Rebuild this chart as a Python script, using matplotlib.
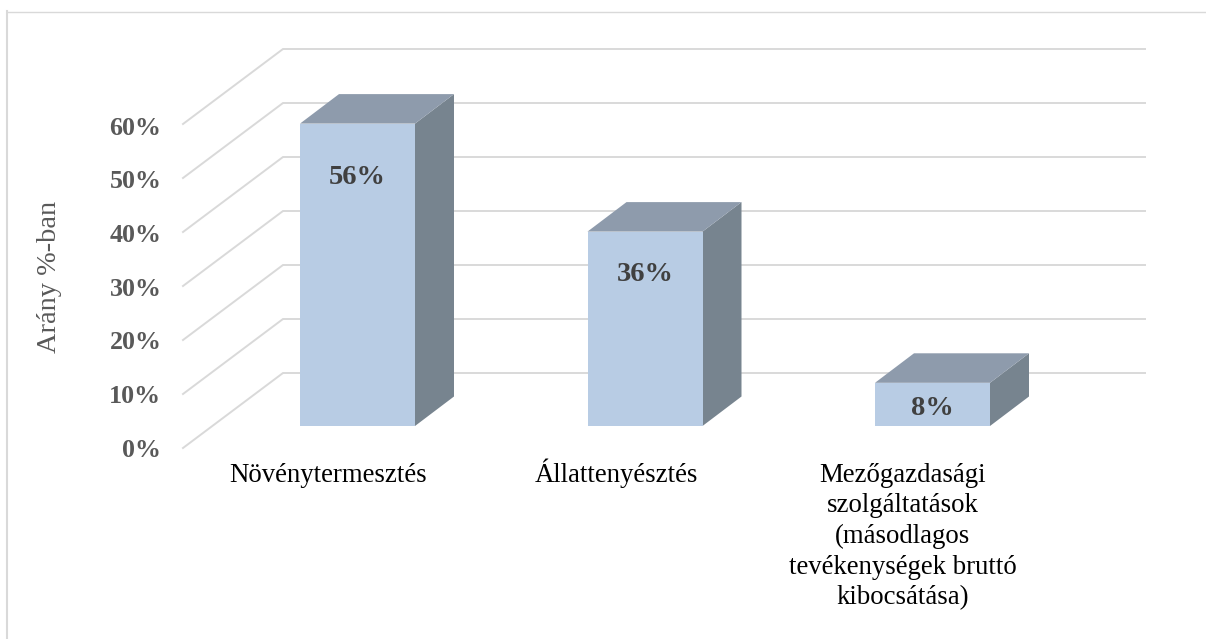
import matplotlib
matplotlib.use('Agg')
import matplotlib.pyplot as plt
from matplotlib.patches import Polygon, Rectangle

plt.rcParams['font.family'] = ['Liberation Serif', 'DejaVu Serif']

categories = ['Növénytermesztés', 'Állattenyésztés',
              'Mezőgazdasági\nszolgáltatások\n(másodlagos\ntevékenységek bruttó\nkibocsátása)']
values = [56, 36, 8]
labels = ['56%', '36%', '8%']
grid_values = [0, 10, 20, 30, 40, 50, 60]

W, H = 1206, 639
# pixel scale of the fake 3d chart
px_per_cat = 287.5
px_per_pct = 5.4
x0_px = 357.5   # centre of first bar
y0_px = 426.0   # front foot of bars
bar_w = 115 / px_per_cat
bar_dx = 39 / px_per_cat
bar_dy = 29.5 / px_per_pct
label_y_px = [177.5, 274.5, 408.5]
cat_x_px = [328.5, 616, 903]
cat_line_px = 30.7

fig = plt.figure(figsize=(W / 100, H / 100), dpi=100)
ax = fig.add_axes([0, 0, 1, 1])
ax.set_xlim(-x0_px / px_per_cat, (W - x0_px) / px_per_cat)
ax.set_ylim((y0_px - H) / px_per_pct, y0_px / px_per_pct)
ax.axis('off')


def xp(px):
    return (px - x0_px) / px_per_cat


def yp(px):
    return (y0_px - px) / px_per_pct


# outer frame, only top and left show in the reference
ax.plot([xp(7), xp(W)], [yp(11.5), yp(11.5)], color='#d9d9d9', lw=1.0, zorder=1)
ax.plot([xp(7), xp(7)], [yp(H), yp(11)], color='#d9d9d9', lw=1.5, zorder=1)

# gridlines on side and back wall
wall_x = [xp(183), xp(283), xp(1145)]
for v in grid_values:
    front = yp(448) + v
    back = yp(373) + v
    ax.plot(wall_x, [front, back, back], color='#d9d9d9', lw=1.4, solid_joinstyle='miter', zorder=1)
    # tick labels sit a bit tighter than the lines
    ax.text(xp(161.5), front - 0.45 + v * 0.995 - v, f'{v}%', ha='right', va='center', fontsize=18.7,
            fontweight='bold', color='#595959')

# bars
for i, (v, lab) in enumerate(zip(values, labels)):
    l = i - bar_w / 2
    r = i + bar_w / 2
    ax.add_patch(Polygon([(r, 0), (r + bar_dx, bar_dy), (r + bar_dx, v + bar_dy), (r, v)],
                         fc='#77848f', ec='none', zorder=2))
    ax.add_patch(Polygon([(l, v), (l + bar_dx, v + bar_dy), (r + bar_dx, v + bar_dy), (r, v)],
                         fc='#8e9bac', ec='none', zorder=2))
    ax.add_patch(Rectangle((l, 0), bar_w, v, fc='#b8cce4', ec='none', zorder=3))
    ax.text(i, yp(label_y_px[i]), lab, ha='center', va='center', fontsize=20.5,
            fontweight='bold', color='#404040', zorder=4)

# category labels, one text per line so the first baseline stays put
for i, c in enumerate(categories):
    for k, line in enumerate(c.split('\n')):
        ax.text(xp(cat_x_px[i]), yp(481.5 + k * cat_line_px), line, ha='center', va='baseline',
                fontsize=19.3, color='black', zorder=4)

ax.text(xp(50), yp(277), 'Arány %-ban', rotation=90, ha='center', va='center',
        fontsize=20.4, color='#595959')

fig.savefig('out.png', dpi=100)
